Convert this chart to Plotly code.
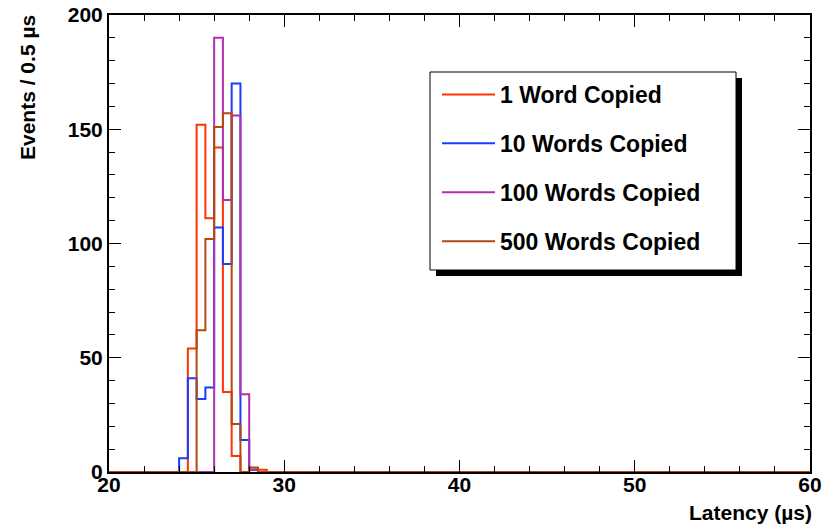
import plotly.graph_objects as go

# ---- data (bin width 0.5 us, x range 20-60) ----
x_min, x_max, bin_w = 20.0, 60.0, 0.5
peak_start = 24.0  # first bin of the explicit region below
series_names = ["1 Word Copied", "10 Words Copied", "100 Words Copied", "500 Words Copied"]
# bins 24.0,24.5,25.0,25.5,26.0,26.5,27.0,27.5,28.0,28.5
red_vals    = [0, 54, 152, 111, 142, 35, 7, 0, 1, 1]
blue_vals   = [6, 41, 32, 37, 107, 91, 170, 14, 1, 0]
purple_vals = [0, 0, 0, 0, 190, 119, 156, 34, 1, 0]
brown_vals  = [0, 0, 62, 102, 151, 157, 21, 0, 2, 0]
colors = ["#ff3300", "#1a3cff", "#b030b0", "#b04a10"]
x_ticks = [20, 30, 40, 50, 60]
y_ticks = [0, 50, 100, 150, 200]

n_bins = int(round((x_max - x_min) / bin_w))
edges = [x_min + i * bin_w for i in range(n_bins + 1)]
first = int(round((peak_start - x_min) / bin_w))


def full_hist(vals):
    h = [0] * n_bins
    for i, v in enumerate(vals):
        h[first + i] = v
    return h


W, H = 828, 528
# plot frame in page pixels: x 109..810, y 15..472
L, T = 109, 15
R, B = W - 810, H - 472
pw, ph = W - L - R, H - T - B


def px_x(p):
    return (p - L) / pw


def px_y(p):
    return (H - B - p) / ph


fig = go.Figure()
for name, vals, col in zip(series_names, [red_vals, blue_vals, purple_vals, brown_vals], colors):
    h = full_hist(vals)
    fig.add_trace(go.Scatter(
        x=edges, y=h + [h[-1]], mode="lines", name=name,
        line=dict(color=col, width=2, shape="hv"), legendgroup=name,
    ))

font_fam = "Liberation Sans, Arial, sans-serif"
axis_common = dict(
    showline=True, linecolor="black", linewidth=2, mirror="allticks",
    ticks="inside", ticklen=12, tickwidth=1, tickcolor="black",
    showgrid=False, zeroline=False, automargin=False, ticklabeloverflow="allow",
    tickfont=dict(family=font_fam, size=21, color="black", weight="bold"),
)
fig.update_xaxes(range=[x_min, x_max], tickvals=x_ticks, ticklabelstandoff=-7,
                 minor=dict(ticks="inside", ticklen=6, dtick=2, tickcolor="black", showgrid=False),
                 **axis_common)
fig.update_yaxes(range=[0, 200], tickvals=y_ticks,
                 minor=dict(ticks="inside", ticklen=6, dtick=10, tickcolor="black", showgrid=False),
                 **axis_common)

# legend box with shadow
fig.add_shape(type="rect", xref="paper", yref="paper", layer="above",
              x0=px_x(436), x1=px_x(742), y0=px_y(276), y1=px_y(78),
              fillcolor="black", line=dict(width=0))
fig.add_shape(type="rect", xref="paper", yref="paper", layer="above",
              x0=px_x(430), x1=px_x(736), y0=px_y(270), y1=px_y(72),
              fillcolor="white", line=dict(color="black", width=1))

fig.add_annotation(text="Events / 0.5 µs", xref="paper", yref="paper",
                   x=px_x(14), y=px_y(13), xanchor="left", yanchor="top", textangle=-90,
                   showarrow=False, font=dict(family=font_fam, size=21, color="black", weight="bold"))
fig.add_annotation(text="Latency (µs)", xref="paper", yref="paper",
                   x=px_x(814), y=px_y(499), xanchor="right", yanchor="top",
                   showarrow=False, font=dict(family=font_fam, size=21, color="black", weight="bold"))

fig.update_layout(
    width=W, height=H, margin=dict(l=L, r=R, t=T, b=B),
    paper_bgcolor="white", plot_bgcolor="white",
    legend=dict(x=px_x(437), y=px_y(73), xanchor="left", yanchor="top",
                bgcolor="rgba(0,0,0,0)", borderwidth=0, itemwidth=53,
                traceorder="grouped", tracegroupgap=16,
                font=dict(family=font_fam, size=23, color="black", weight="bold")),
)

fig.write_html("out.html", config={"displayModeBar": False},
               post_script="document.body.style.margin='0';document.body.style.overflow='hidden';")
